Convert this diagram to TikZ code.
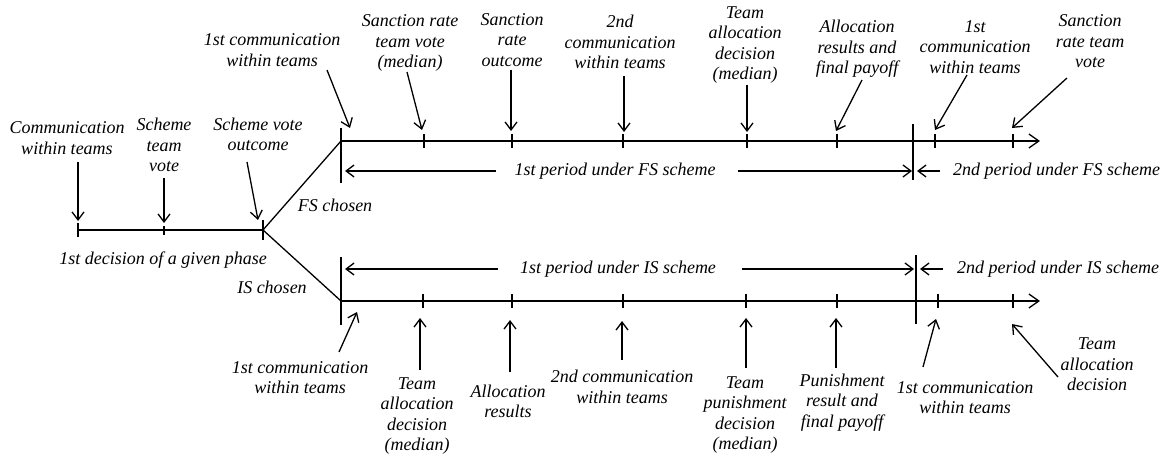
\documentclass[tikz,border=0pt]{standalone}
\usepackage{fontspec}
\setmainfont{Liberation Serif}
\usetikzlibrary{arrows.meta,calc}
\begin{document}
\begin{tikzpicture}[x=1pt,y=-1pt,
  lbl/.style={font=\fontsize{18}{20.5}\selectfont\itshape, align=center, inner sep=0pt},
  tl/.style={line width=1.3pt},
  arr/.style={line width=1.3pt, -{Straight Barb[length=8pt,width=12pt,line width=1.3pt]}},
  bar/.style={line width=1.3pt}]
\useasboundingbox (0,0) rectangle (1168,457);

% ---------- timeline points ----------
\coordinate (p0) at (78,230);
\coordinate (p1) at (164,230);
\coordinate (p2) at (263,230);
\coordinate (fs0) at (341,141);
\coordinate (fsend) at (1040,141);
\coordinate (is0) at (341,301);
\coordinate (isend) at (1040,301);

% left timeline
\draw[tl] (p0) -- (p2);
\draw[tl] ($(p0)+(0,-7)$) -- ($(p0)+(0,7)$);
\draw[tl] ($(p1)+(0,-4)$) -- ($(p1)+(0,5)$);
\draw[tl] ($(p2)+(0,-10)$) -- ($(p2)+(0,10)$);
% branches
\draw[tl] (p2) -- (fs0);
\draw[tl] (p2) -- (is0);
\draw[arr, -{Straight Barb[length=10pt,width=14pt,line width=1.3pt]}] (fs0) -- (fsend);
\draw[arr, -{Straight Barb[length=10pt,width=14pt,line width=1.3pt]}] (is0) -- (isend);

% vertical bars
\draw[bar] (341,128) -- (341,183);
\draw[bar] (913,124) -- (913,180);
\draw[bar] (341,257) -- (341,325);
\draw[bar] (916,255) -- (916,324);

% ticks
\foreach \x/\n in {424/fa,512/fb,623/fc,747/fd,837/fe,935/ff,1013/fg}{
  \coordinate (\n) at (\x,141);
  \draw[tl] (\x,134) -- (\x,148);
}
\foreach \x/\n in {423/ia,512/ib,623/ic,746/id,837/ie,938/if,1013/ig}{
  \coordinate (\n) at (\x,301);
  \draw[tl] (\x,294) -- (\x,308);
}

% ---------- period arrows ----------
\node[lbl] (fsp1) at (615,171) {1st period under FS scheme};
\coordinate (fsp1a) at (496,171);
\coordinate (fsp1b) at (738,171);
\coordinate (fsp1l) at (345,171);
\coordinate (fsp1r) at (912,171);
\draw[arr] (fsp1a) -- (fsp1l);
\draw[arr] (fsp1b) -- (fsp1r);

\node[lbl, anchor=west] (fsp2) at (953,171) {2nd period under FS scheme};
\coordinate (fsp2a) at (940,171);
\coordinate (fsp2l) at (917,171);
\draw[arr] (fsp2a) -- (fsp2l);

\node[lbl] (isp1) at (618,269) {1st period under IS scheme};
\coordinate (isp1a) at (498,269);
\coordinate (isp1b) at (742,269);
\coordinate (isp1l) at (345,269);
\coordinate (isp1r) at (914,269);
\draw[arr] (isp1a) -- (isp1l);
\draw[arr] (isp1b) -- (isp1r);

\node[lbl, anchor=west] (isp2) at (957,269) {2nd period under IS scheme};
\coordinate (isp2a) at (943,269);
\coordinate (isp2l) at (920,269);
\draw[arr] (isp2a) -- (isp2l);

% ---------- other texts ----------
\node[lbl] (fsch) at (335,205) {FS chosen};
\node[lbl] (dec1) at (163,260) {1st decision of a given phase};
\node[lbl] (isch) at (272,287) {IS chosen};

% ---------- labels: left ----------
\node[lbl] (l1) at (67,138) {Communication\\within teams};
\node[lbl] (l2) at (164,145) {Scheme\\team\\vote};
\node[lbl] (l3) at (258,134.5) {Scheme vote\\outcome};

% ---------- labels: FS top ----------
\node[lbl] (t1) at (272,50) {1st communication\\within teams};
\node[lbl] (t2) at (410,43) {Sanction rate\\team vote\\(median)};
\node[lbl] (t3) at (512,40) {Sanction\\rate\\outcome};
\node[lbl] (t4) at (620,42) {2nd\\communication\\within teams};
\node[lbl] (t5) at (745,45) {Team\\allocation\\decision\\(median)};
\node[lbl] (t6) at (857,49) {Allocation\\results and\\final payoff};
\node[lbl] (t7) at (975,47) {1st\\communication\\within teams};
\node[lbl] (t8) at (1090,41.5) {Sanction\\rate team\\vote};

% ---------- labels: IS bottom ----------
\node[lbl] (b1) at (300,377.5) {1st communication\\within teams};
\node[lbl] (b2) at (417,416) {Team\\allocation\\decision\\(median)};
\node[lbl] (b3) at (508,401.5) {Allocation\\results};
\node[lbl] (b4) at (622,387) {2nd communication\\within teams};
\node[lbl] (b5) at (745,415) {Team\\punishment\\decision\\(median)};
\node[lbl] (b6) at (842,402.5) {Punishment\\result and\\final payoff};
\node[lbl] (b7) at (965,397.5) {1st communication\\within teams};
\node[lbl] (b8) at (1097,364.5) {Team\\allocation\\decision};

% ---------- arrow ends ----------
\coordinate (a1s) at (78,162);   \coordinate (a1e) at (78,221);
\coordinate (a2s) at (164,178);  \coordinate (a2e) at (164,223);
\coordinate (a3s) at (247,162);  \coordinate (a3e) at (258,220);
\coordinate (a4s) at (327,70);   \coordinate (a4e) at (350,128);
\coordinate (a5s) at (407,72);   \coordinate (a5e) at (422,130);
\coordinate (a6s) at (511,70);   \coordinate (a6e) at (511,131);
\coordinate (a7s) at (624,76);   \coordinate (a7e) at (624,132);
\coordinate (a8s) at (747,85);   \coordinate (a8e) at (747,132);
\coordinate (a9s) at (862,80);   \coordinate (a9e) at (836,131);
\coordinate (a10s) at (967,75);  \coordinate (a10e) at (935,130);
\coordinate (a11s) at (1067,78); \coordinate (a11e) at (1012,128);
\coordinate (c1s) at (339,352);  \coordinate (c1e) at (357,312);
\coordinate (c2s) at (420,370);  \coordinate (c2e) at (420,318);
\coordinate (c3s) at (510,372);  \coordinate (c3e) at (510,320);
\coordinate (c4s) at (622,360);  \coordinate (c4e) at (622,321);
\coordinate (c5s) at (746,368);  \coordinate (c5e) at (746,318);
\coordinate (c6s) at (836,368);  \coordinate (c6e) at (836,318);
\coordinate (c7s) at (923,367);  \coordinate (c7e) at (936,319);
\coordinate (c8s) at (1058,377); \coordinate (c8e) at (1012,324);

\foreach \i in {1,...,11}{ \draw[arr] (a\i s) -- (a\i e); }
\foreach \i in {1,...,8}{ \draw[arr] (c\i s) -- (c\i e); }
\end{tikzpicture}
\end{document}
